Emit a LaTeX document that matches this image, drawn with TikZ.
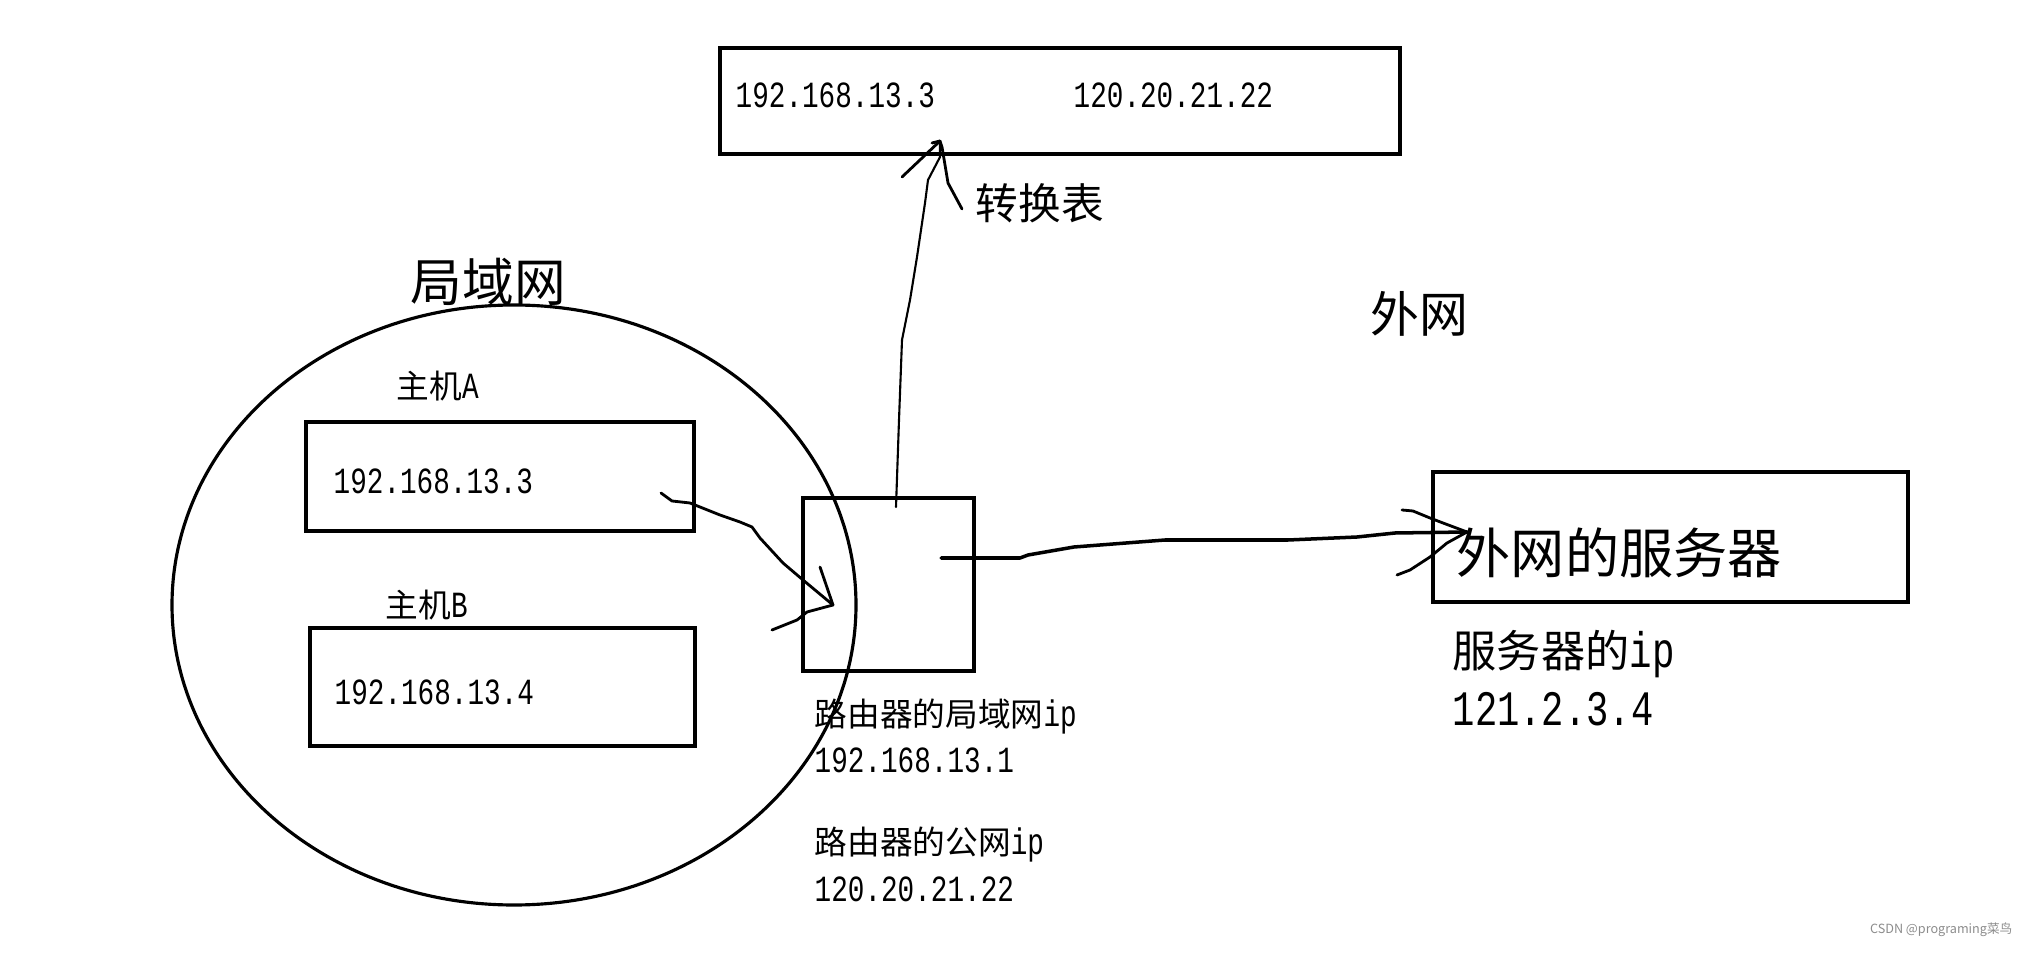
\documentclass[tikz,border=0pt]{standalone}
\usepackage{fontspec}
\setmainfont[FakeStretch=0.75]{Liberation Mono}
\newfontfamily\cjk[Scale=0.886]{Noto Sans CJK SC}
\usetikzlibrary{positioning}

\begin{document}
\begin{tikzpicture}[x=0.1mm, y=-0.1mm,
  box/.style={draw, line width=1.3pt, inner sep=0pt},
  hand/.style={line width=0.8pt, line cap=round, line join=round},
  txt/.style={anchor=west, inner sep=0pt, font=\fontsize{10.5}{12}\selectfont},
  zh/.style={anchor=west, inner sep=0pt, font={\fontsize{#1}{20}\selectfont\cjk}}]

  \useasboundingbox (0,0) rectangle (2027,955);

  % The translation table at the top
  \node[box, minimum width=68mm, minimum height=10.6mm] (table) at (1060,101) {};
  \node[txt] (tab-lan) at (735,95) {192.168.13.3};
  \node[txt] (tab-wan) at (1073,95) {120.20.21.22};
  \node[zh=13.7] (tab-lbl) at (975,203) {转换表};

  % The LAN ring with its two hosts
  \draw[line width=0.9pt] (514,605) ellipse [x radius=34.2mm, y radius=30mm];
  \node[zh=16.6] (lan) at (410,282) {局域网};

  \node[txt] (hostA-lbl) at (396,386) {{\cjk 主机}A};
  \node[box, minimum width=38.8mm, minimum height=10.9mm] (hostA) at (500,476.5) {};
  \node[txt] (hostA-ip) at (333,481) {192.168.13.3};

  \node[txt] (hostB-lbl) at (385,605) {{\cjk 主机}B};
  \node[box, minimum width=38.5mm, minimum height=11.8mm] (hostB) at (502.5,687) {};
  \node[txt] (hostB-ip) at (334,692) {192.168.13.4};

  % The router and its two addresses
  \node[box, minimum width=17.1mm, minimum height=17.3mm] (router) at (888.5,584.5) {};
  \node[txt] (router-lan) at (814,717) {{\cjk 路由器的局域网}ip};
  \node[txt] (router-lan-ip) at (814,760) {192.168.13.1};
  \node[txt] (router-wan) at (814,845) {{\cjk 路由器的公网}ip};
  \node[txt] (router-wan-ip) at (814,889) {120.20.21.22};

  % The outside network and its server
  \node[zh=15.7] (wan) at (1370,314) {外网};
  \node[box, minimum width=47.5mm, minimum height=13mm] (server) at (1670.5,537) {};
  \node[zh=17.4] (server-name) at (1456,553) {外网的服务器};
  \node[txt, font=\fontsize{14.2}{16}\selectfont] (server-lbl) at (1452,654) {{\cjk 服务器的}ip};
  \node[txt, font=\fontsize{14.1}{16}\selectfont] (server-ip) at (1452,709) {121.2.3.4};

  % Hand drawn arrow from host A into the router
  \coordinate (a-out) at (661,493);
  \coordinate (r-in) at (833,605);
  \draw[hand] (a-out) -- (672,501) -- (690,503) -- (720,515) -- (740,522) -- (752,527)
    -- (760,538) -- (783,563) -- (803,580) -- (r-in);
  \draw[hand] (r-in) -- (820,567);
  \draw[hand] (r-in) -- (807,612) -- (797,620) -- (772,630);

  % Hand drawn arrow from the router up to the table
  \coordinate (r-up) at (896,507);
  \coordinate (t-in) at (940,141);
  \draw[hand, line width=0.6pt] (r-up) -- (899,420) -- (902,340) -- (910,300) -- (917,257)
    -- (925,203) -- (928,180) -- (940,157) -- (t-in);
  \draw[hand] (t-in) -- (902,177);
  \draw[hand] (932,143) -- (t-in) -- (942,147) -- (948,183) -- (962,209);

  % Hand drawn arrow from the router out to the server
  \coordinate (r-out) at (941,558);
  \coordinate (s-in) at (1467,532);
  \draw[hand, line width=1pt] (r-out) -- (1020,558) -- (1028,555) -- (1074,547) -- (1165,540)
    -- (1288,540) -- (1357,537) -- (1395,533) -- (s-in);
  \draw[hand] (s-in) -- (1443,523) -- (1430,518) -- (1413,511) -- (1402,510);
  \draw[hand] (s-in) -- (1447,543) -- (1430,557) -- (1410,570) -- (1397,575);

  % Watermark
  \node[anchor=east, inner sep=0pt, text=black!45, font={\fontsize{4.06}{5}\selectfont\cjk}]
    (mark) at (2013,930) {CSDN @programing菜鸟};

\end{tikzpicture}
\end{document}
